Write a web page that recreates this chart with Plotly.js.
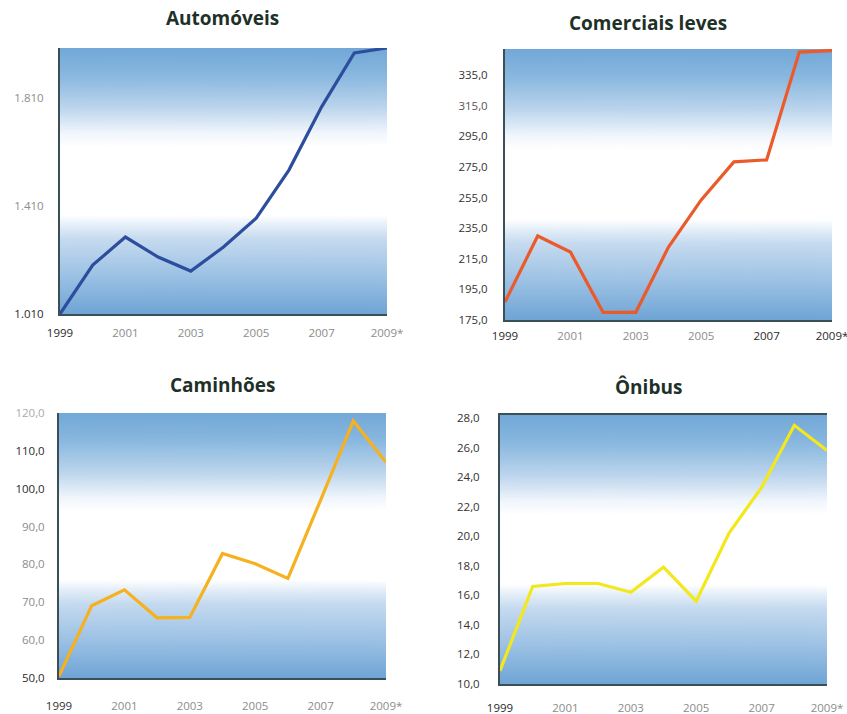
<!DOCTYPE html>
<html>
<head>
<meta charset="utf-8">
<script src="https://cdn.plot.ly/plotly-3.0.1.min.js"></script>
<style>
html,body{margin:0;padding:0;background:#fff;}
#chart{width:847px;height:714px;}
</style>
</head>
<body>
<div id="chart"></div>
<script>
// ---- Data ----
const years = [1999, 2000, 2001, 2002, 2003, 2004, 2005, 2006, 2007, 2008, 2009];
const automoveis = [1010, 1191, 1295, 1221, 1169, 1258, 1365, 1543, 1777, 1977, 1995];
const comerciaisLeves = [186.8, 229.9, 219.4, 180, 180, 222.7, 253.4, 278.3, 279.6, 350, 351];
const caminhoes = [50.5, 69.1, 73.3, 65.9, 66, 82.9, 80.2, 76.3, 97, 117.9, 107];
const onibus = [10.9, 16.6, 16.8, 16.8, 16.2, 17.9, 15.6, 20.2, 23.3, 27.5, 25.8];

const titles = ["Automóveis", "Comerciais leves", "Caminhões", "Ônibus"];

const xTickVals = [1999, 2001, 2003, 2005, 2007, 2009];
const xTickLabels = ["1999", "2001", "2003", "2005", "2007", "2009*"];

const yTickVals1 = [1010, 1410, 1810];
const yTickLabels1 = ["1.010", "1.410", "1.810"];
const yTickVals2 = [175, 195, 215, 235, 255, 275, 295, 315, 335];
const yTickLabels2 = ["175,0", "195,0", "215,0", "235,0", "255,0", "275,0", "295,0", "315,0", "335,0"];
const yTickVals3 = [50, 60, 70, 80, 90, 100, 110, 120];
const yTickLabels3 = ["50,0", "60,0", "70,0", "80,0", "90,0", "100,0", "110,0", "120,0"];
const yTickVals4 = [10, 12, 14, 16, 18, 20, 22, 24, 26, 28];
const yTickLabels4 = ["10,0", "12,0", "14,0", "16,0", "18,0", "20,0", "22,0", "24,0", "26,0", "28,0"];

// ---- Styling helpers ----
const DARK = "#2a2a2a", GRAY = "#8c8c8c";
function colorize(labels, colors) {
  return labels.map((t, i) => '<span style="color:' + colors[i] + '">' + t + '</span>');
}

// gradient background image
function gradientURL() {
  const c = document.createElement("canvas");
  c.width = 10; c.height = 400;
  const g = c.getContext("2d");
  const gr = g.createLinearGradient(0, 0, 0, 400);
  gr.addColorStop(0.00, "#72a8d8");
  gr.addColorStop(0.10, "#88b7df");
  gr.addColorStop(0.22, "#bad4ec");
  gr.addColorStop(0.32, "#f0f6fc");
  gr.addColorStop(0.37, "#ffffff");
  gr.addColorStop(0.63, "#ffffff");
  gr.addColorStop(0.67, "#e2edf8");
  gr.addColorStop(0.72, "#c5daef");
  gr.addColorStop(0.86, "#9bc1e4");
  gr.addColorStop(1.00, "#6fa5d5");
  g.fillStyle = gr;
  g.fillRect(0, 0, 10, 400);
  return c.toDataURL("image/png");
}
const bg = gradientURL();

const W = 847, H = 714;
function dx(a, b) { return [a / W, b / W]; }
function dy(top, bottom) { return [1 - bottom / H, 1 - top / H]; }

const lineColors = ["#2d4e9c", "#ea5a2b", "#f5b120", "#f2e81c"];
const series = [automoveis, comerciaisLeves, caminhoes, onibus];

const traces = series.map((s, i) => ({
  x: years, y: s, type: "scatter", mode: "lines",
  line: {color: lineColors[i], width: 3.2},
  xaxis: i === 0 ? "x" : "x" + (i + 1),
  yaxis: i === 0 ? "y" : "y" + (i + 1),
  hoverinfo: "skip", cliponaxis: false
}));

const axisLine = "#3b4f57";
const tickFont = {family: "Open Sans, sans-serif", size: 11.5};
function xaxis(domain, anchor, colors, standoff, mirror) {
  return {
    domain: domain, anchor: anchor, range: [1999, 2009],
    tickmode: "array", tickvals: xTickVals, ticktext: colorize(xTickLabels, colors),
    showgrid: false, zeroline: false, ticks: "",
    showline: true, linecolor: axisLine, linewidth: 2, mirror: mirror,
    tickfont: tickFont, ticklabeloverflow: "allow",
    ticklabelstandoff: standoff, fixedrange: true
  };
}
function yaxis(domain, anchor, range, vals, labels, colors, standoff) {
  return {
    domain: domain, anchor: anchor, range: range,
    tickmode: "array", tickvals: vals, ticktext: colorize(labels, colors),
    showgrid: false, zeroline: false, ticks: "",
    showline: true, linecolor: axisLine, linewidth: 2,
    tickfont: tickFont, ticklabeloverflow: "allow",
    ticklabelstandoff: standoff, fixedrange: true
  };
}

const layout = {
  width: W, height: H,
  margin: {l: 0, r: 0, t: 0, b: 0},
  paper_bgcolor: "#ffffff", plot_bgcolor: "rgba(0,0,0,0)",
  showlegend: false,
  xaxis: xaxis(dx(60, 387), "y", [DARK, GRAY, GRAY, GRAY, GRAY, GRAY], 7, false),
  yaxis: yaxis(dy(48, 314), "x", [1010, 1995], yTickVals1, yTickLabels1, [DARK, GRAY, GRAY], 12),
  xaxis2: xaxis(dx(505, 832), "y2", [DARK, GRAY, GRAY, GRAY, DARK, DARK], 4, false),
  yaxis2: yaxis(dy(49, 320), "x2", [175, 352], yTickVals2, yTickLabels2,
    ["#333", "#333", "#333", "#333", "#333", "#333", "#333", "#555", "#333"], 13),
  xaxis3: xaxis(dx(59, 386), "y3", ["#333", GRAY, GRAY, GRAY, GRAY, GRAY], 16, false),
  yaxis3: yaxis(dy(413, 678), "x3", [50, 120], yTickVals3, yTickLabels3,
    [DARK, GRAY, GRAY, GRAY, GRAY, DARK, DARK, "#aaaaaa"], 10),
  xaxis4: xaxis(dx(500, 827), "y4", [DARK, GRAY, GRAY, GRAY, GRAY, GRAY], 12, true),
  yaxis4: yaxis(dy(415, 684), "x4", [10, 28.2], yTickVals4, yTickLabels4,
    ["#333", "#333", "#333", "#333", "#333", "#333", "#333", "#333", "#333", "#333"], 16),
  images: [1, 2, 3, 4].map(i => ({
    source: bg, xref: (i === 1 ? "x" : "x" + i) + " domain", yref: (i === 1 ? "y" : "y" + i) + " domain",
    x: 0, y: 1, sizex: 1, sizey: 1, xanchor: "left", yanchor: "top",
    sizing: "stretch", layer: "below"
  })),
  annotations: [
    {text: titles[0], x: 222 / W, y: 1 - 18 / H},
    {text: titles[1], x: 648 / W, y: 1 - 23 / H},
    {text: titles[2], x: 222 / W, y: 1 - 385 / H},
    {text: titles[3], x: 648 / W, y: 1 - 387 / H}
  ].map(a => Object.assign(a, {
    xref: "paper", yref: "paper", showarrow: false, xanchor: "center", yanchor: "middle",
    font: {family: "Open Sans, sans-serif", size: 19, color: "#1e3128", weight: "bold"}
  }))
};

Plotly.newPlot("chart", traces, layout, {displayModeBar: false, staticPlot: true});
</script>
</body>
</html>
